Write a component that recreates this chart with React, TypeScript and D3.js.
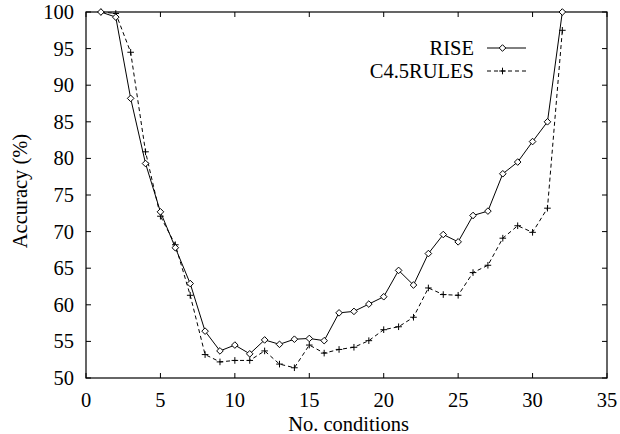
import React from "react";
import * as d3 from "d3";

// values
const conditions = d3.range(1, 33);
const riseAcc = [
  100, 99.3, 88.2, 79.3, 72.7, 67.8, 62.9, 56.4, 53.7, 54.5, 53.3, 55.2, 54.6,
  55.3, 55.4, 55.1, 58.9, 59.1, 60.1, 61.1, 64.7, 62.7, 67.0, 69.6, 68.6, 72.2,
  72.8, 77.9, 79.5, 82.3, 85.0, 100,
];
const c45Acc = [
  100, 99.8, 94.5, 80.9, 72.1, 68.2, 61.3, 53.2, 52.2, 52.4, 52.4, 53.7, 51.9,
  51.4, 54.5, 53.4, 53.9, 54.2, 55.1, 56.6, 57.0, 58.3, 62.3, 61.4, 61.3, 64.4,
  65.4, 69.1, 70.8, 69.9, 73.2, 97.5,
];
const xTicks = [0, 5, 10, 15, 20, 25, 30, 35];
const yTicks = [50, 55, 60, 65, 70, 75, 80, 85, 90, 95, 100];
const seriesNames = ["RISE", "C4.5RULES"];

const W = 620;
const H = 434;
const margin = { top: 12, right: 13, bottom: 56, left: 86 };
const FONT = `"Liberation Serif", "Times New Roman", serif`;

const App = () => {
  const x = d3
    .scaleLinear()
    .domain([0, 35])
    .range([margin.left, W - margin.right]);
  const y = d3
    .scaleLinear()
    .domain([50, 100])
    .range([H - margin.bottom, margin.top]);

  const line = d3
    .line<number>()
    .x((_, i) => x(conditions[i]))
    .y((d) => y(d));

  const x0 = x(0);
  const x1 = x(35);
  const y0 = y(50);
  const y1 = y(100);
  const tick = 5;

  const diamond = (cx: number, cy: number, r = 3.3) =>
    `M${cx},${cy - r}L${cx + r},${cy}L${cx},${cy + r}L${cx - r},${cy}Z`;
  const plus = (cx: number, cy: number, r = 3.3) =>
    `M${cx - r},${cy}H${cx + r}M${cx},${cy - r}V${cy + r}`;

  // legend position
  const legX = 487;
  const legW = 39;
  const legY = [48, 71];

  const txt = { fontFamily: FONT, fontSize: 20.5 };

  return (
    <div style={{ position: "absolute", left: 0, top: 0 }}>
      <svg width={W} height={H} style={{ display: "block", background: "#fff" }}>
        {/* ticks */}
        {xTicks.map((t) => (
          <g key={"xt" + t}>
            <line x1={x(t)} x2={x(t)} y1={y0} y2={y0 - tick} stroke="#000" />
            <line x1={x(t)} x2={x(t)} y1={y1} y2={y1 + tick} stroke="#000" />
            <text x={x(t)} y={y0 + 29} textAnchor="middle" style={txt}>
              {t}
            </text>
          </g>
        ))}
        {yTicks.map((t) => (
          <g key={"yt" + t}>
            <line x1={x0} x2={x0 + tick} y1={y(t)} y2={y(t)} stroke="#000" />
            <line x1={x1} x2={x1 - tick} y1={y(t)} y2={y(t)} stroke="#000" />
            <text x={x0 - 12} y={y(t)} dy="0.34em" textAnchor="end" style={txt}>
              {t}
            </text>
          </g>
        ))}

        {/* frame */}
        <rect
          x={x0}
          y={y1}
          width={x1 - x0}
          height={y0 - y1}
          fill="none"
          stroke="#000"
          strokeWidth={1.2}
        />

        {/* series */}
        <path d={line(c45Acc) || ""} fill="none" stroke="#000" strokeDasharray="4,3" />
        <path d={line(riseAcc) || ""} fill="none" stroke="#000" />
        {c45Acc.map((v, i) => (
          <path key={"p" + i} d={plus(x(conditions[i]), y(v))} stroke="#000" />
        ))}
        {riseAcc.map((v, i) => (
          <path
            key={"d" + i}
            d={diamond(x(conditions[i]), y(v))}
            fill="#fff"
            stroke="#000"
          />
        ))}

        {/* legend */}
        {seriesNames.map((name, i) => (
          <g key={name}>
            <text x={legX - 13} y={legY[i]} dy="0.34em" textAnchor="end" style={txt}>
              {name}
            </text>
            <line
              x1={legX}
              x2={legX + legW}
              y1={legY[i]}
              y2={legY[i]}
              stroke="#000"
              strokeDasharray={i === 1 ? "4,3" : undefined}
            />
            {i === 0 ? (
              <path d={diamond(legX + legW / 2 - 4, legY[i])} fill="#fff" stroke="#000" />
            ) : (
              <path d={plus(legX + legW / 2 - 4, legY[i])} stroke="#000" />
            )}
          </g>
        ))}

        {/* axis titles */}
        <text x={(x0 + x1) / 2 + 2} y={H - 3} textAnchor="middle" style={txt}>
          No. conditions
        </text>
        <text
          transform={`translate(20, ${(y0 + y1) / 2 - 4}) rotate(-90)`}
          textAnchor="middle"
          dy="0.34em"
          style={txt}
        >
          Accuracy (%)
        </text>
      </svg>
    </div>
  );
};

export default App;
